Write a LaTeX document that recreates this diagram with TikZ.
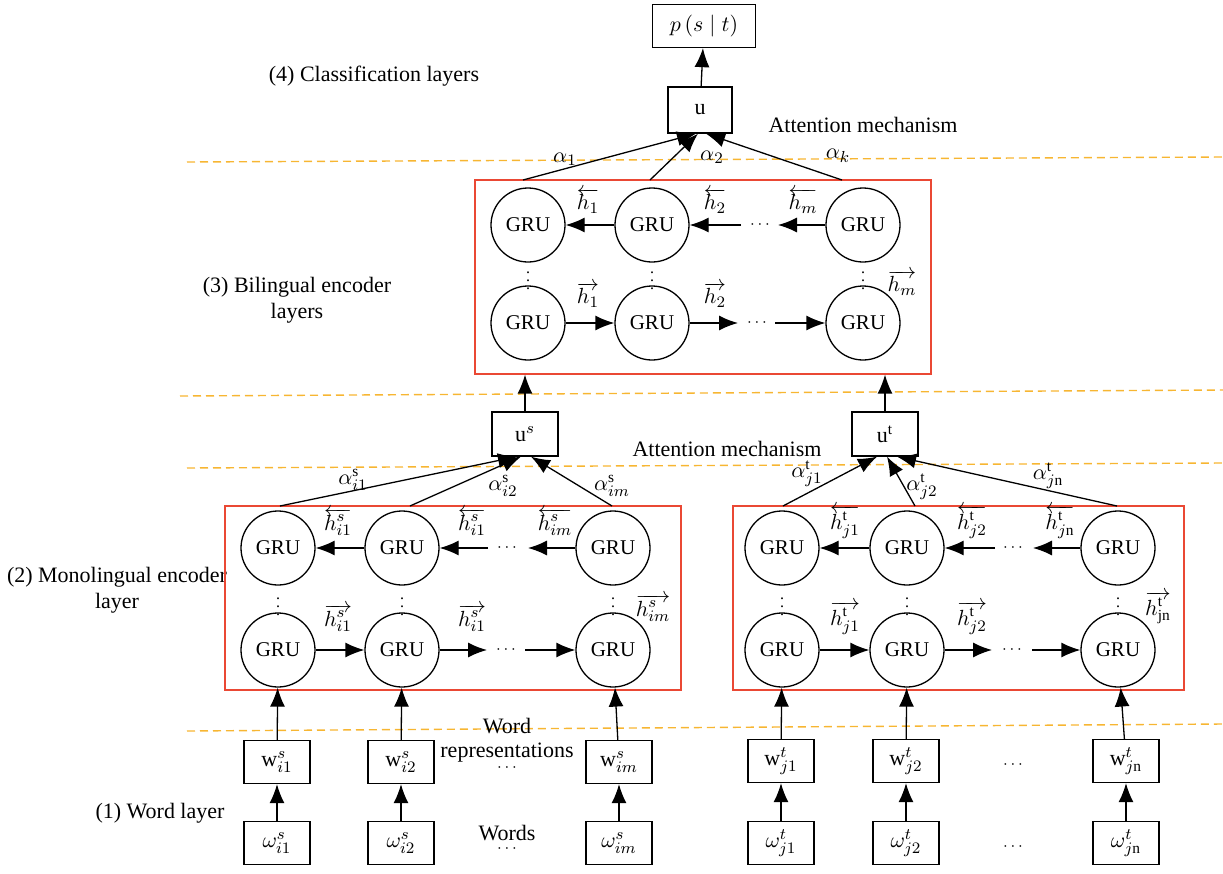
\documentclass[tikz,border=0pt]{standalone}
\usepackage{fontspec}
\setmainfont{Liberation Serif}
\usetikzlibrary{arrows.meta}
\definecolor{dashor}{RGB}{247,182,50}
\definecolor{boxred}{RGB}{234,72,52}
\begin{document}
\begin{tikzpicture}[x=0.5pt,y=-0.5pt,
  gru/.style={circle,draw,line width=0.65pt,minimum size=37pt,inner sep=0pt,font=\fontsize{10.5}{12}\selectfont},
  sq/.style={draw,line width=0.65pt,minimum width=33pt,minimum height=21.5pt,inner sep=0pt,font=\fontsize{11}{13}\selectfont},
  arr/.style={-{Latex[length=9.5pt,width=7.5pt]},line width=0.65pt},
  sep/.style={draw=dashor,dash pattern=on 4pt off 2.5pt,line width=0.7pt},
  redbox/.style={draw=boxred,line width=0.6pt,inner sep=0pt},
  lbl/.style={font=\fontsize{11}{13}\selectfont,align=center,inner sep=0pt},
  ml/.style={font=\fontsize{11}{13}\selectfont,inner sep=0pt},
  hd/.style={font=\fontsize{8.5}{9}\selectfont,inner sep=0pt},
  vd/.style={font=\fontsize{8}{9}\selectfont,inner sep=0pt},
]
\useasboundingbox (0,0) rectangle (1223,874);

% dashed separators
\draw[sep] (187,162) -- (1223,157);
\draw[sep] (180,396) -- (1223,390);
\draw[sep] (187,468) -- (1223,463);
\draw[sep] (187,731) -- (1223,724);

% layer labels
\node[lbl] (L4) at (374,76) {(4) Classification layers};
\node[lbl] (L3) at (297,300) {(3) Bilingual encoder\\layers};
\node[lbl] (L2) at (117,590) {(2) Monolingual encoder\\layer};
\node[lbl] (L1) at (160,813) {(1) Word layer};
\node[lbl] (att1) at (863,125) {Attention mechanism};
\node[lbl] (att2) at (727,449) {Attention mechanism};
\node[lbl] (wr) at (507,740) {Word\\[-1pt]representations};
\node[lbl] (wd) at (507,833) {Words};

% classification
\node[sq,minimum width=51.5pt,minimum height=21.5pt] (p) at (704,26) {$p\,(s\mid t)$};
\node[sq,minimum width=32pt,minimum height=23pt] (u) at (700,110) {u};
\draw[arr] (u) -- (p);

% bilingual encoder
\node[redbox,minimum width=228pt,minimum height=97pt] (bibox) at (703,277) {};
\node[gru] (t1) at (528,225) {GRU};
\node[gru] (t2) at (652,225) {GRU};
\node[gru] (t3) at (863,225) {GRU};
\node[gru] (b1) at (528,323) {GRU};
\node[gru] (b2) at (652,323) {GRU};
\node[gru] (b3) at (863,323) {GRU};
\draw[arr] (t2) -- (t1);
\coordinate (tc1) at (741,225);
\coordinate (tc2) at (778,225);
\node[hd] (tdots) at (760,225) {$\cdots$};
\draw[arr] (tc1) -- (t2);
\draw[arr] (t3) -- (tc2);
\draw[arr] (b1) -- (b2);
\coordinate (bc1) at (738,323);
\coordinate (bc2) at (775,323);
\node[hd] (bdots) at (757,323) {$\cdots$};
\draw[arr] (b2) -- (bc1);
\draw[arr] (bc2) -- (b3);
\node[vd] (v1) at (528,275) {$\vdots$};
\node[vd] (v2) at (652,275) {$\vdots$};
\node[vd] (v3) at (863,275) {$\vdots$};
\node[ml] (hl1) at (588,201) {$\overleftarrow{h_1}$};
\node[ml] (hl2) at (715,201) {$\overleftarrow{h_2}$};
\node[ml] (hlm) at (803,201) {$\overleftarrow{h_m}$};
\node[ml] (hr1) at (588,295) {$\overrightarrow{h_1}$};
\node[ml] (hr2) at (715,295) {$\overrightarrow{h_2}$};
\node[ml] (hrm) at (902,283) {$\overrightarrow{h_m}$};

% attention to u
\coordinate (s1) at (523,180);
\coordinate (s2) at (650,180);
\coordinate (s3) at (842,180);
\draw[arr] (s1) -- ([xshift=-2pt]u.south);
\draw[arr] (s2) -- ([xshift=-1pt]u.south);
\draw[arr] (s3) -- ([xshift=3pt]u.south);
\node[ml] (a1) at (565,159) {$\alpha_1$};
\node[ml] (a2) at (712,157) {$\alpha_2$};
\node[ml] (ak) at (838,156) {$\alpha_k$};

% u^s and u^t
\node[sq,minimum width=33pt,minimum height=22pt] (us) at (525,434) {u$^{s}$};
\node[sq,minimum width=33pt,minimum height=22pt] (ut) at (885,434) {u$^{\mathrm{t}}$};
\draw[arr] (us) -- (us |- bibox.south);
\draw[arr] (ut) -- (ut |- bibox.south);

% left monolingual
\node[redbox,minimum width=228pt,minimum height=92pt] (lbox) at (453,598) {};
\node[gru] (lt1) at (278,548) {GRU};
\node[gru] (lt2) at (402,548) {GRU};
\node[gru] (lt3) at (613,548) {GRU};
\node[gru] (lb1) at (278,650) {GRU};
\node[gru] (lb2) at (402,650) {GRU};
\node[gru] (lb3) at (613,650) {GRU};
\draw[arr] (lt2) -- (lt1);
\coordinate (ltc1) at (488,548);
\coordinate (ltc2) at (528,548);
\node[hd] (ltdots) at (507,548) {$\cdots$};
\draw[arr] (ltc1) -- (lt2);
\draw[arr] (lt3) -- (ltc2);
\draw[arr] (lb1) -- (lb2);
\coordinate (lbc1) at (487,650);
\coordinate (lbc2) at (525,650);
\node[hd] (lbdots) at (506,650) {$\cdots$};
\draw[arr] (lb2) -- (lbc1);
\draw[arr] (lbc2) -- (lb3);
\node[vd] (lv1) at (278,601) {$\vdots$};
\node[vd] (lv2) at (402,601) {$\vdots$};
\node[vd] (lv3) at (613,601) {$\vdots$};
\node[ml] (lhl1) at (338,522) {$\overleftarrow{h^{s}_{i1}}$};
\node[ml] (lhl2) at (472,522) {$\overleftarrow{h^{s}_{i1}}$};
\node[ml] (lhlm) at (555,522) {$\overleftarrow{h^{s}_{im}}$};
\node[ml] (lhr1) at (338,618) {$\overrightarrow{h^{s}_{i1}}$};
\node[ml] (lhr2) at (472,618) {$\overrightarrow{h^{s}_{i1}}$};
\node[ml] (lhrm) at (653,608) {$\overrightarrow{h^{s}_{im}}$};
\coordinate (ls1) at (280,506);
\coordinate (ls2) at (410,506);
\coordinate (ls3) at (612,506);
\draw[arr] (ls1) -- ([xshift=-4pt]us.south);
\draw[arr] (ls2) -- ([xshift=-2pt]us.south);
\draw[arr] (ls3) -- ([xshift=3pt]us.south);
\node[ml] (las1) at (353,480) {$\alpha^{\mathrm{s}}_{i1}$};
\node[ml] (las2) at (503,486) {$\alpha^{\mathrm{s}}_{i2}$};
\node[ml] (lasm) at (612,486) {$\alpha^{\mathrm{s}}_{im}$};

% right monolingual
\node[redbox,minimum width=225.5pt,minimum height=92pt] (rbox) at (958.5,598) {};
\node[gru] (rt1) at (782,548) {GRU};
\node[gru] (rt2) at (907,548) {GRU};
\node[gru] (rt3) at (1118,548) {GRU};
\node[gru] (rb1) at (782,650) {GRU};
\node[gru] (rb2) at (907,650) {GRU};
\node[gru] (rb3) at (1118,650) {GRU};
\draw[arr] (rt2) -- (rt1);
\coordinate (rtc1) at (995,548);
\coordinate (rtc2) at (1033,548);
\node[hd] (rtdots) at (1013,548) {$\cdots$};
\draw[arr] (rtc1) -- (rt2);
\draw[arr] (rt3) -- (rtc2);
\draw[arr] (rb1) -- (rb2);
\coordinate (rbc1) at (992,650);
\coordinate (rbc2) at (1032,650);
\node[hd] (rbdots) at (1012,650) {$\cdots$};
\draw[arr] (rb2) -- (rbc1);
\draw[arr] (rbc2) -- (rb3);
\node[vd] (rv1) at (782,601) {$\vdots$};
\node[vd] (rv2) at (907,601) {$\vdots$};
\node[vd] (rv3) at (1118,601) {$\vdots$};
\node[ml] (rhl1) at (845,522) {$\overleftarrow{h^{\mathrm{t}}_{j1}}$};
\node[ml] (rhl2) at (972,522) {$\overleftarrow{h^{\mathrm{t}}_{j2}}$};
\node[ml] (rhln) at (1060,522) {$\overleftarrow{h^{\mathrm{t}}_{j\mathrm{n}}}$};
\node[ml] (rhr1) at (845,618) {$\overrightarrow{h^{\mathrm{t}}_{j1}}$};
\node[ml] (rhr2) at (972,618) {$\overrightarrow{h^{\mathrm{t}}_{j2}}$};
\node[ml] (rhrn) at (1158,608) {$\overrightarrow{h^{\mathrm{t}}_{\mathrm{jn}}}$};
\coordinate (rs1) at (783,506);
\coordinate (rs2) at (915,506);
\coordinate (rs3) at (1117,506);
\draw[arr] (rs1) -- ([xshift=-4pt]ut.south);
\draw[arr] (rs2) -- ([xshift=1pt]ut.south);
\draw[arr] (rs3) -- ([xshift=6pt]ut.south);
\node[ml] (rat1) at (807,474) {$\alpha^{\mathrm{t}}_{j1}$};
\node[ml] (rat2) at (922,487) {$\alpha^{\mathrm{t}}_{j2}$};
\node[ml] (ratn) at (1048,476) {$\alpha^{\mathrm{t}}_{j\mathrm{n}}$};

% word representations and words (source)
\node[sq] (w1) at (277,762) {w$^{s}_{i1}$};
\node[sq] (w2) at (401,762) {w$^{s}_{i2}$};
\node[sq] (wm) at (619,762) {w$^{s}_{im}$};
\node[sq] (o1) at (277,843) {$\omega^{s}_{i1}$};
\node[sq] (o2) at (401,843) {$\omega^{s}_{i2}$};
\node[sq] (om) at (619,843) {$\omega^{s}_{im}$};
\node[hd] (wdl) at (507,768) {$\cdots$};
\node[hd] (odl) at (507,849) {$\cdots$};
\draw[arr] (w1) -- (lb1);
\draw[arr] (w2) -- (lb2);
\draw[arr] (wm) -- (lb3);
\draw[arr] (o1) -- (w1);
\draw[arr] (o2) -- (w2);
\draw[arr] (om) -- (wm);

% word representations and words (target)
\node[sq] (v1w) at (781,761) {w$^{t}_{j1}$};
\node[sq] (v2w) at (906,761) {w$^{t}_{j2}$};
\node[sq] (vnw) at (1126,761) {w$^{t}_{j\mathrm{n}}$};
\node[sq] (p1) at (781,843) {$\omega^{t}_{j1}$};
\node[sq] (p2) at (906,843) {$\omega^{t}_{j2}$};
\node[sq] (pn) at (1126,843) {$\omega^{t}_{j\mathrm{n}}$};
\node[hd] (wdr) at (1013,765) {$\cdots$};
\node[hd] (odr) at (1013,847) {$\cdots$};
\draw[arr] (v1w) -- (rb1);
\draw[arr] (v2w) -- (rb2);
\draw[arr] (vnw) -- (rb3);
\draw[arr] (p1) -- (v1w);
\draw[arr] (p2) -- (v2w);
\draw[arr] (pn) -- (vnw);
\end{tikzpicture}
\end{document}
